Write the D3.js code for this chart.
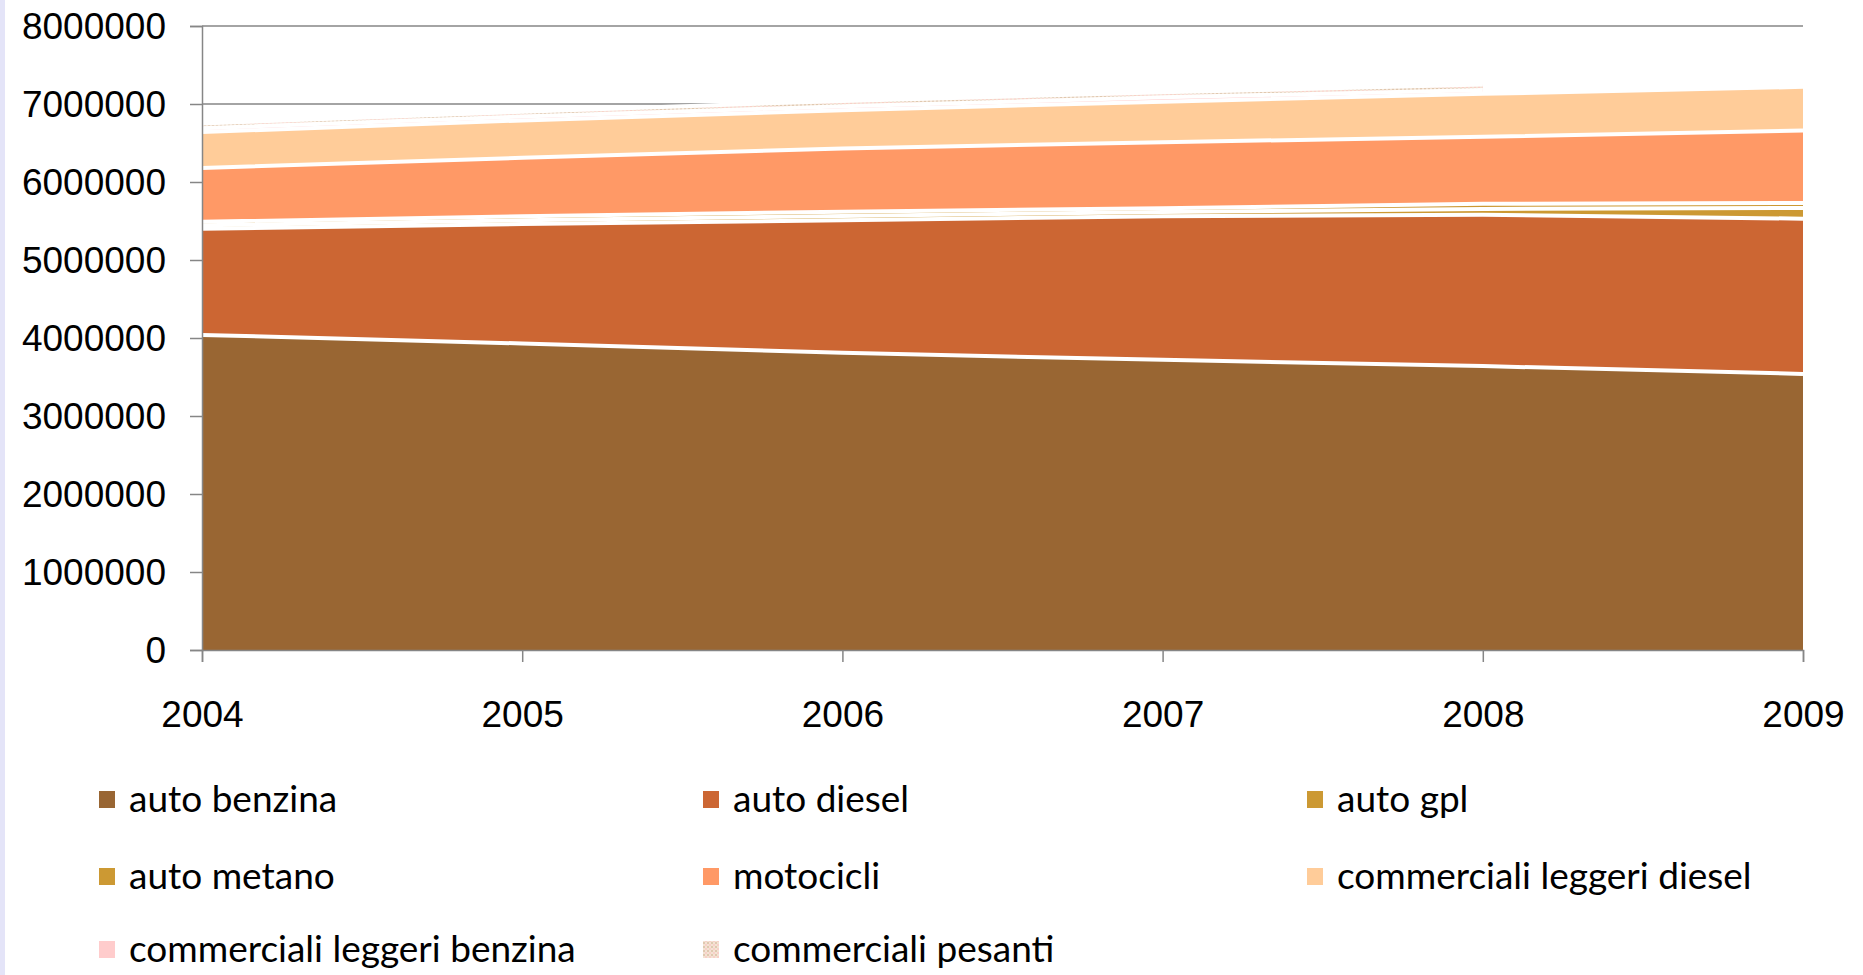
<!DOCTYPE html>
<meta charset="utf-8">
<head>
<title>Parco veicoli 2004-2009</title>
<style>
body {
  margin: 0;
  background: #fff;
}
svg {
  display: block;
  font-family: Lato, "Open Sans", sans-serif;
}
.axis path, .axis line {
  stroke: #868686;
  stroke-width: 1.5px;
}
.axis text {
  font-size: 37px;
  fill: #000;
}
.grid line {
  stroke: #868686;
  stroke-width: 1.5px;
}
.legend text {
  font-size: 37px;
  fill: #000;
}
</style>
</head>
<body>
<script src="https://d3js.org/d3.v7.min.js"></script>
<script>

  // data
  var years = [2004, 2005, 2006, 2007, 2008, 2009];

  var seriesNames = ["auto benzina", "auto diesel", "auto gpl", "auto metano",
    "motocicli", "commerciali leggeri diesel", "commerciali leggeri benzina", "commerciali pesanti"];

  var autoBenzina  = [4040000, 3930000, 3810000, 3720000, 3640000, 3540000];
  var autoDiesel   = [1360000, 1530000, 1700000, 1840000, 1940000, 1990000];
  var autoGpl      = [45000, 50000, 55000, 55000, 75000, 136000];
  var autoMetano   = [45000, 50000, 55000, 50000, 65000, 64000];
  var motocicli    = [690000, 750000, 810000, 845000, 860000, 930000];
  var commLegDiesel  = [460000, 480000, 490000, 520000, 550000, 560000];
  var commLegBenzina = [50000, 50000, 50000, 55000, 50000, null];
  var commPesanti    = [60000, 60000, 70000, 65000, 70000, null];

  var yTicks = [0, 1000000, 2000000, 3000000, 4000000, 5000000, 6000000, 7000000, 8000000];

  var colors = ["#996633", "#cc6633", "#cc9933", "#cc9933", "#ff9966", "#ffcc99", "#ffcccc", "url(#pesanti)"];

  var seriesValues = [autoBenzina, autoDiesel, autoGpl, autoMetano, motocicli,
    commLegDiesel, commLegBenzina, commPesanti];

  var table = years.map(function (yr, i) {
    var row = { year: yr };
    seriesNames.forEach(function (name, j) { row[name] = seriesValues[j][i]; });
    return row;
  });

  var width = 1863,
      height = 975;

  var svg = d3.select("body").append("svg")
      .attr("width", width)
      .attr("height", height);

  // pattern for commerciali pesanti
  var pat = svg.append("defs").append("pattern")
      .attr("id", "pesanti")
      .attr("width", 4)
      .attr("height", 4)
      .attr("patternUnits", "userSpaceOnUse");
  pat.append("rect").attr("width", 4).attr("height", 4).attr("fill", "#f3e3d3");
  pat.append("rect").attr("width", 2).attr("height", 2).attr("fill", "#e0c8b0");
  pat.append("rect").attr("x", 2).attr("y", 2).attr("width", 2).attr("height", 2).attr("fill", "#f8d0c8");

  // faint frame on the left edge, as in the picture
  svg.append("rect")
      .attr("x", 0).attr("y", 0)
      .attr("width", 5).attr("height", height)
      .attr("fill", "#e4e4f8");

  var x = d3.scaleLinear()
      .domain([2004, 2009])
      .range([202, 1803]);

  var y = d3.scaleLinear()
      .domain([0, 8000000])
      .range([650, 26]);

  // gridlines under the areas
  svg.append("g")
      .attr("class", "grid")
    .selectAll("line")
    .data(yTicks.slice(1))
    .enter().append("line")
      .attr("x1", x(2004))
      .attr("x2", x(2009))
      .attr("y1", function (d) { return y(d); })
      .attr("y2", function (d) { return y(d); });

  var stack = d3.stack()
      .keys(seriesNames)
      .value(function (d, k) { return d[k] == null ? 0 : d[k]; });

  var layers = stack(table);

  var g = svg.append("g");

  layers.forEach(function (layer, i) {
    var key = layer.key;
    var a = d3.area()
        .defined(function (d) { return d.data[key] != null; })
        .x(function (d) { return x(d.data.year); })
        .y0(function (d) { return y(d[0]); })
        .y1(function (d) { return y(d[1]); });
    g.append("path")
        .datum(layer)
        .attr("fill", colors[i])
        .attr("d", a);
  });

  // white border on top of each band
  layers.forEach(function (layer) {
    var key = layer.key;
    var l = d3.line()
        .defined(function (d) { return d.data[key] != null; })
        .x(function (d) { return x(d.data.year); })
        .y(function (d) { return y(d[1]); });
    g.append("path")
        .datum(layer)
        .attr("fill", "none")
        .attr("stroke", "#fff")
        .attr("stroke-width", 4)
        .attr("d", l);
  });

  // axes
  svg.append("g")
      .attr("class", "axis")
      .attr("transform", "translate(" + x(2004) + ",0)")
      .call(d3.axisLeft(y)
        .tickValues(yTicks)
        .tickSize(12)
        .tickPadding(24)
        .tickFormat(d3.format("d")))
      .call(function (s) { s.selectAll("text").attr("dy", "0.34em"); });

  svg.append("g")
      .attr("class", "axis")
      .attr("transform", "translate(0," + y(0) + ")")
      .call(d3.axisBottom(x)
        .tickValues(years)
        .tickSize(12)
        .tickPadding(39)
        .tickFormat(d3.format("d")));

  // legend
  var legendCols = [107, 711, 1315];
  var legendRows = [800, 877, 950];

  var legend = svg.append("g")
      .attr("class", "legend")
    .selectAll("g")
    .data(seriesNames)
    .enter().append("g")
      .attr("transform", function (d, i) {
        return "translate(" + legendCols[i % 3] + "," + legendRows[Math.floor(i / 3)] + ")";
      });

  legend.append("rect")
      .attr("x", -8)
      .attr("y", -9)
      .attr("width", 16)
      .attr("height", 17)
      .attr("fill", function (d, i) { return colors[i]; });

  legend.append("text")
      .attr("x", 22)
      .attr("y", 12)
      .text(function (d) { return d; });

</script>
</body>
